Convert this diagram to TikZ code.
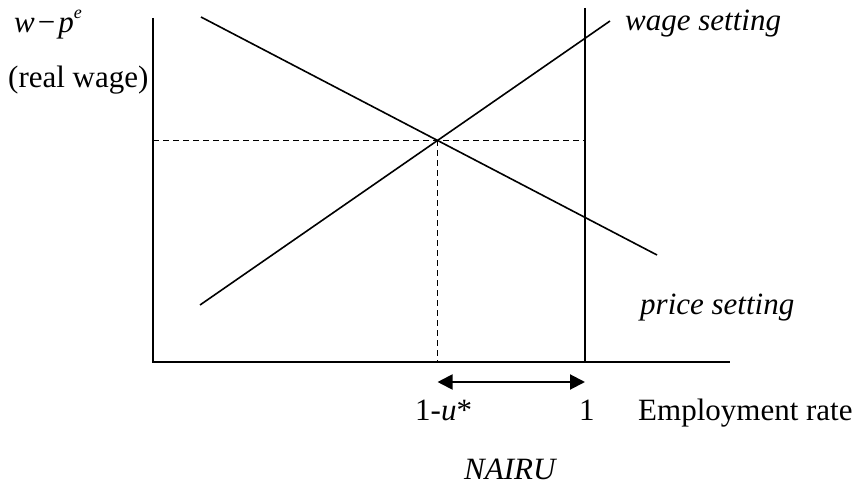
\documentclass[tikz,border=0pt]{standalone}
\usepackage{fontspec}
\setmainfont{Liberation Serif}
\usepackage{tikz}
\usetikzlibrary{arrows.meta,positioning,intersections}

\begin{document}
\begin{tikzpicture}[
    x=1pt, y=-1pt,
    lbl/.style={inner sep=0pt, anchor=base west, font=\fontsize{31}{37}\selectfont},
    axis/.style={line width=1.9pt},
    curve/.style={line width=1.6pt},
    guide/.style={line width=1.4pt, dash pattern=on 6pt off 4pt},
    span arrow/.style={{Triangle[length=15pt,width=15pt]}-{Triangle[length=15pt,width=15pt]}, line width=2pt}
  ]
    \useasboundingbox (0,0) rectangle (857,489);
    % axes
    \coordinate (origin) at (153,362);
    \coordinate (ytop)   at (153,18);
    \coordinate (xend)   at (730,362);
    \coordinate (fulltop) at (585,8);
    \coordinate (full)   at (585,362);
    \draw[axis] (ytop) -- (origin) -- (xend);
    \draw[axis] (fulltop) -- (full);
    % wage and price setting
    \coordinate (ws1) at (200,305);
    \coordinate (ws2) at (610,21);
    \coordinate (ps1) at (201,17);
    \coordinate (ps2) at (657,255);
    \draw[curve, name path=wage]  (ws1) -- (ws2);
    \draw[curve, name path=price] (ps1) -- (ps2);
    \path[name intersections={of=wage and price, by=eq}];
    % equilibrium
    \coordinate (eqy)  at (origin |- eq);
    \coordinate (eqy2) at (full |- eq);
    \coordinate (eqx)  at (eq |- origin);
    \draw[guide] (eqy) -- (eqy2);
    \draw[guide] (eq) -- (eqx);
    % NAIRU range
    \coordinate (rl) at (eq |- 0,382);
    \coordinate (rr) at (full |- 0,382);
    \draw[span arrow] (rl) -- (rr);
    % labels
    \node[lbl] (ylab)   at (14,33)  {\itshape w\kern3pt\upshape −\kern3pt\itshape p\raisebox{14pt}{\fontsize{18}{18}\selectfont e}};
    \node[lbl] (yname)  at (8,88)   {(real wage)};
    \node[lbl] (wslab)  at (625,31) {\itshape wage setting};
    \node[lbl] (pslab)  at (640,314) {\itshape price setting};
    \node[lbl] (ustar)  at (415,420) {1-\textit{u}*};
    \node[lbl] (one)    at (579,420) {1};
    \node[lbl] (xname)  at (638,420) {Employment rate};
    \node[lbl] (nairu)  at (464,479) {\itshape NAIRU};
\end{tikzpicture}
\end{document}
